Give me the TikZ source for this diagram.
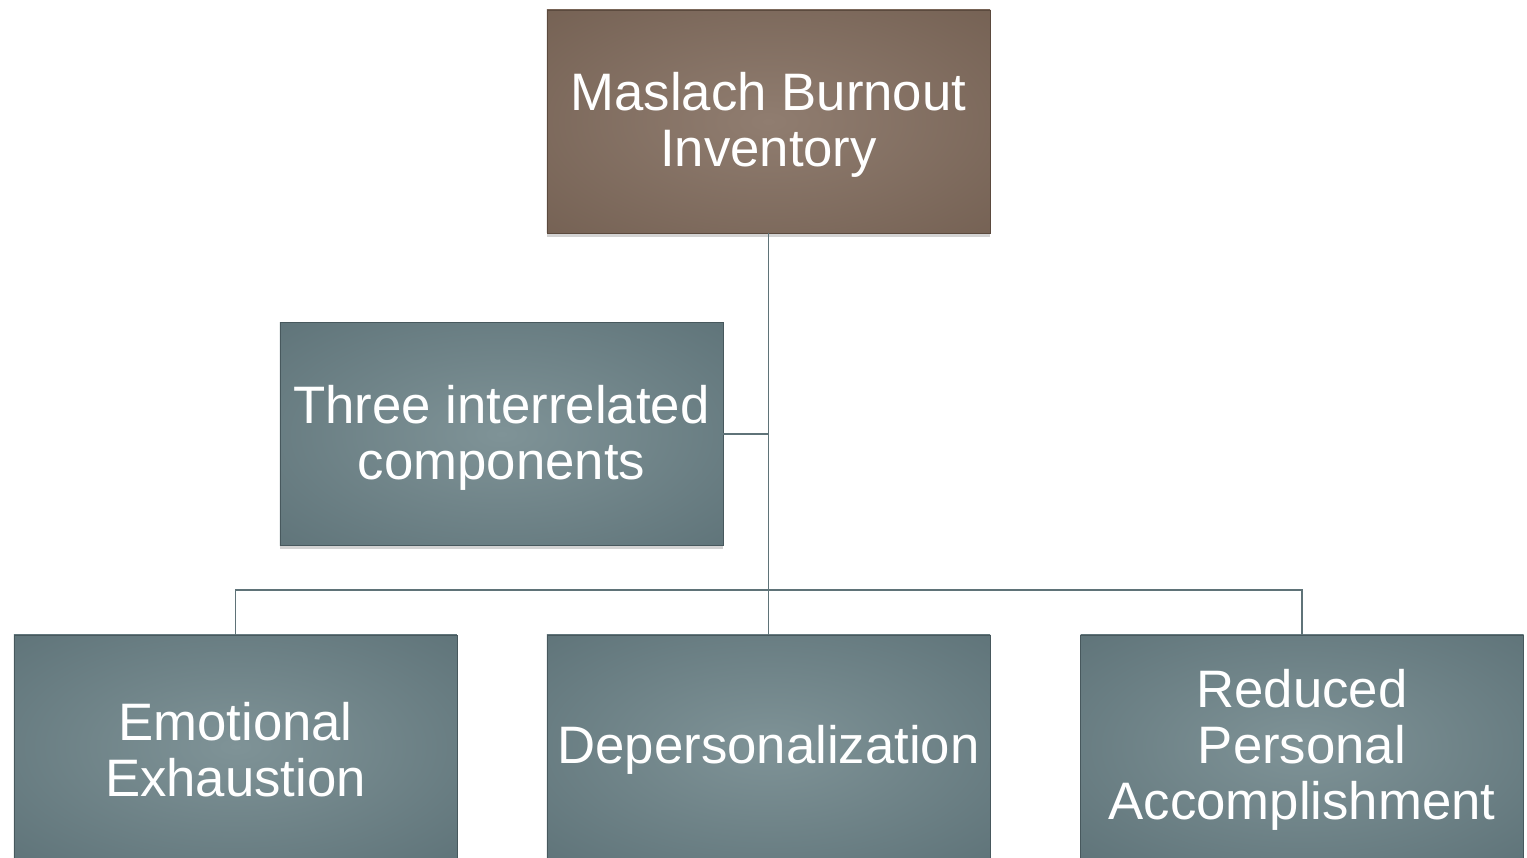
\documentclass[tikz,border=0pt]{standalone}
\usepackage{fontspec}
\setmainfont{Liberation Sans}
\usetikzlibrary{shadows}
\definecolor{tealin}{HTML}{7F9397}
\definecolor{tealout}{HTML}{53686E}
\definecolor{brownin}{HTML}{907D70}
\definecolor{brownout}{HTML}{6B5749}
\definecolor{linkgray}{HTML}{5F7378}
\pgfdeclareradialshading{tealglow}{\pgfpoint{0bp}{0bp}}{color(0bp)=(tealin); color(50bp)=(tealout); color(60bp)=(tealout)}
\pgfdeclareradialshading{brownglow}{\pgfpoint{0bp}{0bp}}{color(0bp)=(brownin); color(50bp)=(brownout); color(60bp)=(brownout)}
\def\boxsep{12.5cm}

\begin{document}
\begin{tikzpicture}[draw=linkgray, node distance=\boxsep, every label/.append style={text=white, align=center, font=\fontsize{30}{32}\selectfont, yshift=-2pt}]
    \tikzstyle{component}=[rectangle, minimum width=8.86cm, minimum height=4.46cm, inner sep=0pt, shading=tealglow, draw=tealout!85!black, line width=0.4pt, drop shadow={shadow xshift=0pt, shadow yshift=-2pt, opacity=0.35}]
    \tikzstyle{inventory}=[component, shading=brownglow, draw=brownout!85!black]
    \tikzstyle{link}=[draw=linkgray, line width=1.1pt]

    \useasboundingbox (-15.37,2.43) rectangle (15.17,-14.73);

    % Draw the top node
    \node[inventory, label=center:{Maslach Burnout\\Inventory}] (MBI) at (0,0) {};
    \node[component, label=center:{Three interrelated\\components}] (Three) at (-5.34,-6.25) {};
    % Draw the three components
    \node[component, label=center:Depersonalization, below of=MBI] (Deper) {};
    \node[component, label=center:{Emotional\\Exhaustion}, left of=Deper, node distance=10.66cm] (Emot) {};
    \node[component, label=center:{Reduced\\Personal\\Accomplishment}, right of=Deper, node distance=10.67cm] (Reduced) {};
    \coordinate[above of=Deper, node distance=3.13cm] (bus);

    % Connect the nodes
    \path[link] (MBI) edge (Deper);
    \path[link] (Three.east) edge (Three.east -| bus);
    \draw[link] (Emot.north) |- (bus) -| (Reduced.north);

\end{tikzpicture}
\end{document}
